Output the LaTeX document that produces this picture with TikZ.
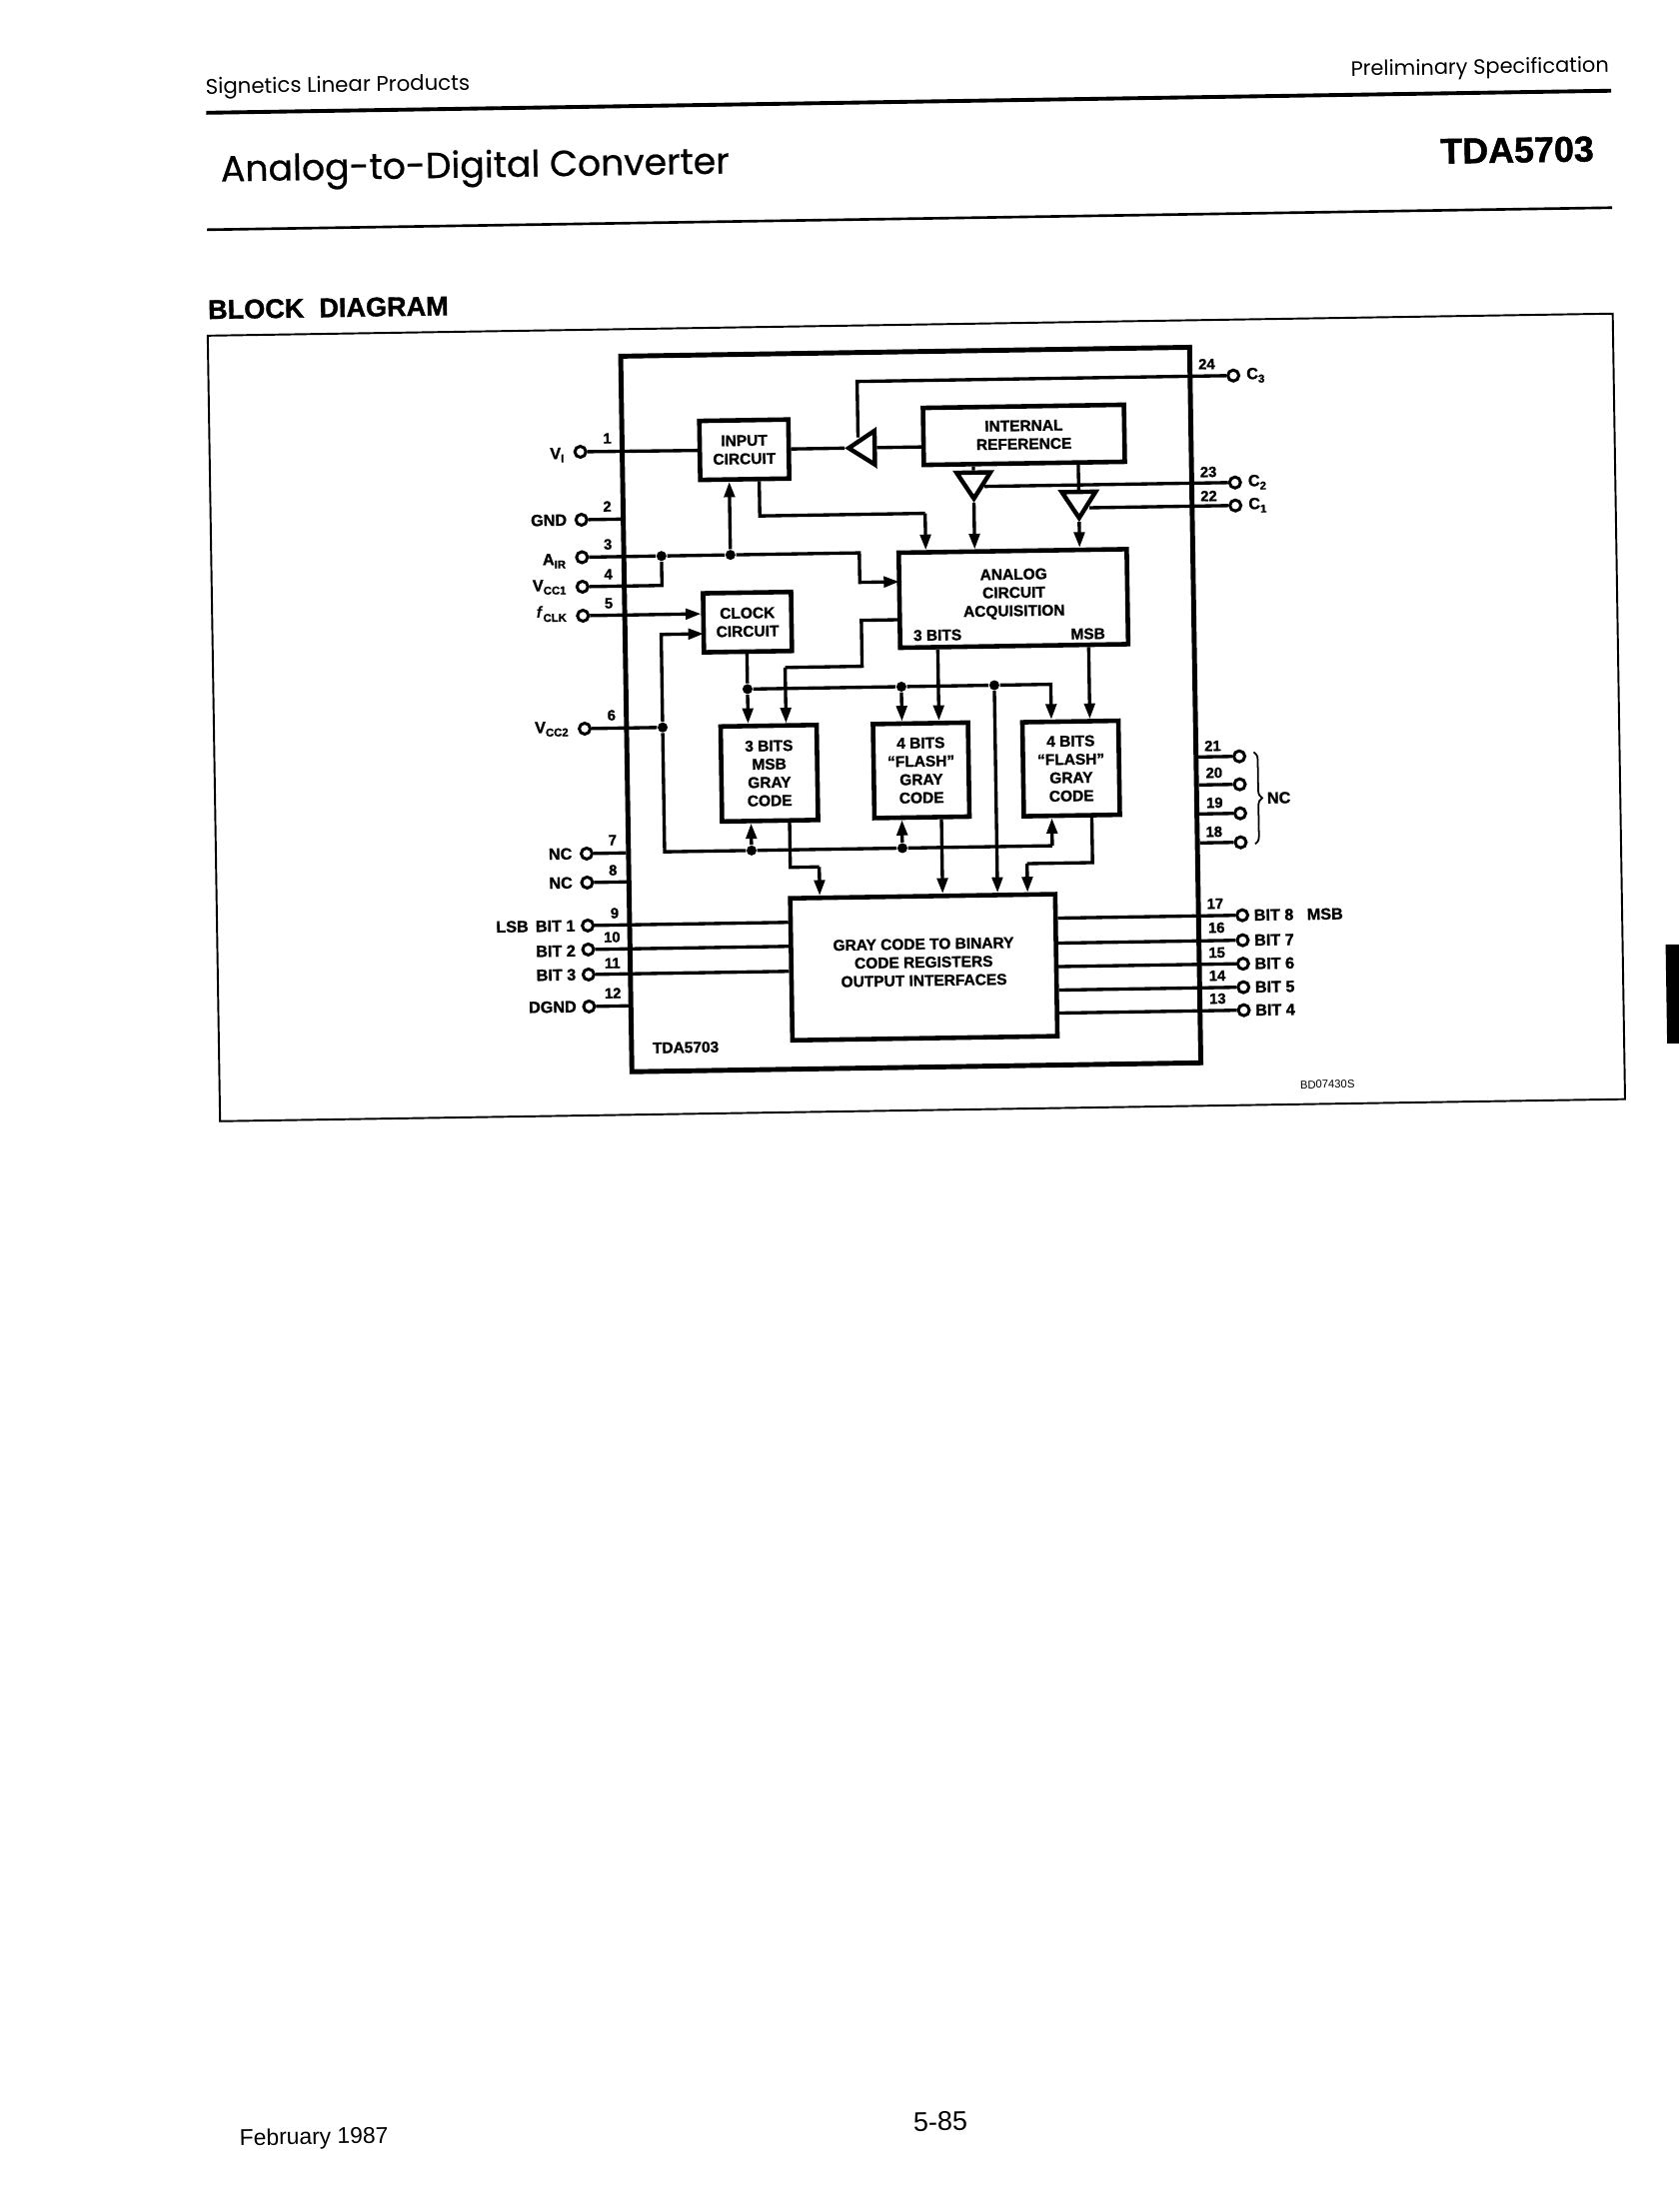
\documentclass[tikz,border=0pt]{standalone}
\usepackage{fontspec}
\setmainfont[BoldFeatures={FakeBold=1.2}]{Liberation Sans}
\newfontfamily\headfont{Poppins}
\newfontfamily\titlefont[FakeBold=0.6]{Poppins}
\usetikzlibrary{arrows.meta,shapes.geometric,decorations.pathreplacing}
\tikzset{
  wire/.style={line width=0.95pt},
  arr/.style={wire, -{Triangle[length=4.4pt,width=3pt]}},
  block/.style={draw, line width=1.3pt, align=center, inner sep=0pt, node font=\fontsize{4.4}{5.2}\selectfont\bfseries},
  blocktext/.style={align=center, inner sep=0pt, node font=\fontsize{4.4}{5.2}\selectfont\bfseries},
  pincirc/.style={draw, circle, fill=white, line width=0.85pt, minimum size=0.11cm, inner sep=0pt},
  pinnum/.style={inner sep=0pt, node font=\fontsize{4.2}{5}\selectfont\bfseries},
  pinleft/.style={anchor=east, inner sep=0pt, node font=\fontsize{4.6}{5}\selectfont\bfseries},
  pinright/.style={anchor=west, inner sep=0pt, node font=\fontsize{4.6}{5}\selectfont\bfseries},
  jdot/.style={circle, fill, minimum size=0.1cm, inner sep=0pt},
  buffer/.style={draw, isosceles triangle, isosceles triangle apex angle=66, line width=1.25pt, minimum height=0.26cm, inner sep=0pt, anchor=apex},
  rulehead/.style={line width=1.1pt},
}
\begin{document}
\begin{tikzpicture}[x=0.01cm, y=-0.01cm]
\useasboundingbox (0, 0) rectangle (1680, 2213);
\begin{scope}[rotate around={0.9:(840, 1106)}, transform shape]
% page head and foot
\node [inner sep=0pt, node font=\fontsize{6.05}{7}\selectfont\headfont] (signetics) at (354, 79) {Signetics Linear Products};
\node [inner sep=0pt, node font=\fontsize{5.95}{7}\selectfont\headfont] (prelim) at (1497, 79) {Preliminary Specification};
\draw [rulehead] (222, 103) -- (1628, 103);
\node [inner sep=0pt, anchor=west, node font=\fontsize{10.3}{12}\selectfont\titlefont] (title) at (235, 163) {Analog-to-Digital Converter};
\node [inner sep=0pt, node font=\fontsize{10.2}{12}\selectfont\bfseries] (partno) at (1533, 161) {TDA5703};
\draw [line width=0.75pt] (221, 220) -- (1627, 220);
\node [inner sep=0pt, node font=\fontsize{7.7}{9}\selectfont\bfseries] (heading) at (341, 300) {BLOCK\ \ DIAGRAM};
\draw [line width=0.55pt] (220, 326) rectangle (1626, 1112);
\node [inner sep=0pt, node font=\fontsize{6.5}{8}\selectfont] (date) at (298, 2131) {February 1987};
\node [inner sep=0pt, node font=\fontsize{7.7}{9}\selectfont] (pageno) at (925, 2124) {5-85};
\fill (1669, 958) rectangle (1695, 1057);
% chip and blocks
\node [draw, line width=1.4pt, minimum width=5.69cm, minimum height=7.155cm, inner sep=0pt] (chip) at (917.5, 711) {};
\node [block, minimum width=0.89cm, minimum height=0.59cm] (inbox) at (755, 448.5) {INPUT\\ CIRCUIT};
\node [block, minimum width=0.88cm, minimum height=0.59cm] (clkbox) at (755.5, 621) {CLOCK\\ CIRCUIT};
\node [block, minimum width=2.01cm, minimum height=0.57cm] (refbox) at (1035, 438) {INTERNAL\\ REFERENCE};
\node [block, minimum width=2.28cm, minimum height=0.95cm] (anabox) at (1022, 601.5) {};
\node [blocktext] (anatext) at (1022.5, 597) {ANALOG\\ CIRCUIT\\ ACQUISITION};
\node [blocktext] (threebits) at (945.5, 637) {3 BITS};
\node [blocktext] (msbtext) at (1096, 638) {MSB};
\node [block, minimum width=0.96cm, minimum height=0.95cm] (grayone) at (775, 772.5) {3 BITS\\ MSB\\ GRAY\\ CODE};
\node [block, minimum width=0.95cm, minimum height=0.94cm] (graytwo) at (927, 772) {4 BITS\\ ``FLASH''\\ GRAY\\ CODE};
\node [block, minimum width=0.96cm, minimum height=0.94cm] (graythree) at (1077, 772.5) {4 BITS\\ ``FLASH''\\ GRAY\\ CODE};
\node [block, minimum width=2.65cm, minimum height=1.42cm] (convbox) at (926.5, 969) {};
\node [blocktext] (convtext) at (926.5, 964) {GRAY CODE TO BINARY\\ CODE REGISTERS\\ OUTPUT INTERFACES};
\node [blocktext] (chipname) at (687, 1045.5) {TDA5703};
\node [inner sep=0pt, node font=\fontsize{3.2}{4}\selectfont] (drawingno) at (1328.5, 1092.5) {BD07430S};
% buffers
\node [buffer, shape border rotate=180] (bufthree) at (855.5, 448.5) {};
\node [buffer, shape border rotate=270] (buftwo) at (984, 505) {};
\node [buffer, shape border rotate=270] (bufone) at (1089, 526) {};
% left pins
\node [pincirc] (vi) at (591, 448) {};
\node [pincirc] (gnd) at (591, 516) {};
\node [pincirc] (air) at (591, 553.5) {};
\node [pincirc] (vccone) at (591, 583) {};
\node [pincirc] (fclk) at (591, 612) {};
\node [pincirc] (vcctwo) at (591, 725) {};
\node [pincirc] (ncseven) at (591, 850) {};
\node [pincirc] (nceight) at (591, 879) {};
\node [pincirc] (bitone) at (591, 922) {};
\node [pincirc] (bittwo) at (591, 946) {};
\node [pincirc] (bitthree) at (591, 971) {};
\node [pincirc] (dgnd) at (591, 1003) {};
\node [pinleft] (lvi) at (577, 451) {V\textsubscript{I}};
\node [pinleft] (lgnd) at (577, 516) {GND};
\node [pinleft] (lair) at (577, 557) {A\textsubscript{IR}};
\node [pinleft] (lvccone) at (577, 583) {V\textsubscript{CC1}};
\node [pinleft] (lfclk) at (577, 610) {\textit{f}\textsubscript{CLK}};
\node [pinleft] (lvcctwo) at (577, 725) {V\textsubscript{CC2}};
\node [pinleft] (lncseven) at (577, 850) {NC};
\node [pinleft] (lnceight) at (577, 879) {NC};
\node [pinleft] (lbitone) at (579, 922) {LSB\ \,BIT 1};
\node [pinleft] (lbittwo) at (579, 947) {BIT 2};
\node [pinleft] (lbitthree) at (579, 971) {BIT 3};
\node [pinleft] (ldgnd) at (579, 1003) {DGND};
\node [pinnum] (none) at (618, 435) {1};
\node [pinnum] (ntwo) at (617, 503) {2};
\node [pinnum] (nthree) at (617, 541) {3};
\node [pinnum] (nfour) at (617, 571) {4};
\node [pinnum] (nfive) at (617, 600) {5};
\node [pinnum] (nsix) at (618, 712) {6};
\node [pinnum] (nseven) at (617, 837) {7};
\node [pinnum] (neight) at (617, 867) {8};
\node [pinnum] (nnine) at (618, 910) {9};
\node [pinnum] (nten) at (615, 934) {10};
\node [pinnum] (neleven) at (615, 960) {11};
\node [pinnum] (ntwelve) at (615, 990) {12};
% right pins
\node [pincirc] (cthree) at (1245.5, 382) {};
\node [pincirc] (ctwo) at (1245.5, 489) {};
\node [pincirc] (cone) at (1245.5, 512) {};
\node [pincirc] (ncone) at (1245.5, 763) {};
\node [pincirc] (nctwo) at (1245.5, 791) {};
\node [pincirc] (ncthree) at (1245.5, 820) {};
\node [pincirc] (ncfour) at (1245.5, 849) {};
\node [pincirc] (biteight) at (1246, 922) {};
\node [pincirc] (bitseven) at (1246, 947) {};
\node [pincirc] (bitsix) at (1246, 970.5) {};
\node [pincirc] (bitfive) at (1246, 994) {};
\node [pincirc] (bitfour) at (1246, 1017) {};
\node [pinright] (lcthree) at (1258, 382) {C\textsubscript{3}};
\node [pinright] (lctwo) at (1258, 489) {C\textsubscript{2}};
\node [pinright] (lcone) at (1258, 512) {C\textsubscript{1}};
\node [pinright] (lnc) at (1272, 805) {NC};
\node [pinright] (lbiteight) at (1257, 922) {BIT 8\ \ \ MSB};
\node [pinright] (lbitseven) at (1257, 947) {BIT 7};
\node [pinright] (lbitsix) at (1257, 970.5) {BIT 6};
\node [pinright] (lbitfive) at (1257, 994) {BIT 5};
\node [pinright] (lbitfour) at (1257, 1017) {BIT 4};
\node [pinnum] (ntwentyfour) at (1219, 370) {24};
\node [pinnum] (ntwentythree) at (1219, 478) {23};
\node [pinnum] (ntwentytwo) at (1219, 502) {22};
\node [pinnum] (ntwentyone) at (1219, 752) {21};
\node [pinnum] (ntwenty) at (1220, 779) {20};
\node [pinnum] (nnineteen) at (1220, 809) {19};
\node [pinnum] (neighteen) at (1219, 838) {18};
\node [pinnum] (nseventeen) at (1219, 910) {17};
\node [pinnum] (nsixteen) at (1220, 934) {16};
\node [pinnum] (nfifteen) at (1220, 959) {15};
\node [pinnum] (nfourteen) at (1220, 982) {14};
\node [pinnum] (nthirteen) at (1220, 1005) {13};
\draw [decorate, decoration={brace, amplitude=2.2pt}, line width=0.5pt] (1260, 759) coordinate (bracetop) -- (1260, 851) coordinate (bracebot);
% junctions and bends
\node [jdot] (dotair) at (670.5, 553.5) {};
\node [jdot] (dotin) at (739.5, 553.5) {};
\node [jdot] (dotvcc) at (669, 725) {};
\node [jdot] (dotclk) at (754.5, 688) {};
\node [jdot] (dotflash) at (908.5, 688) {};
\node [jdot] (dotconv) at (1001.5, 688) {};
\node [jdot] (dotgone) at (756, 849.5) {};
\node [jdot] (dotgtwo) at (907, 849.5) {};
\coordinate (incorner) at (769.5, 515);
\coordinate (inend) at (935, 515);
\coordinate (aircorner) at (868.5, 553.5);
\coordinate (airend) at (908, 583);
\coordinate (clkin) at (711.5, 632);
\coordinate (anacorner) at (869.5, 621);
\coordinate (anabend) at (869.5, 667);
\coordinate (anadrop) at (792.5, 667);
\coordinate (clkright) at (1058, 688);
\coordinate (busright) at (1057, 849.5);
\coordinate (goneout) at (794.5, 867);
\coordinate (goneend) at (823.5, 867);
\coordinate (gthreeout) at (1097, 867);
\coordinate (gthreeend) at (1031.5, 867);
\coordinate (cthreebend) at (869, 382);
% connectors on the left
\draw [wire] (vi) -- (inbox.west);
\draw [wire] (gnd) -- (gnd -| chip.west);
\draw [wire] (air) -- (dotair);
\draw [wire] (dotair) -- (dotin);
\draw [arr] (dotin) -- (aircorner) |- (airend);
\draw [arr] (dotin) -- (dotin |- inbox.south);
\draw [wire] (vccone) -| (dotair);
\draw [arr] (fclk) -- (fclk -| clkbox.west);
\draw [wire] (vcctwo) -- (dotvcc);
\draw [arr] (dotvcc) |- (clkin);
\draw [wire] (ncseven) -- (ncseven -| chip.west);
\draw [wire] (nceight) -- (nceight -| chip.west);
\draw [wire] (bitone) -- (bitone -| convbox.west);
\draw [wire] (bittwo) -- (bittwo -| convbox.west);
\draw [wire] (bitthree) -- (bitthree -| convbox.west);
\draw [wire] (dgnd) -- (dgnd -| chip.west);
% connectors round the reference
\draw [wire] (inbox.east) -- (bufthree.apex);
\draw [wire] (bufthree.lower side) -- (bufthree.lower side -| refbox.west);
\draw [wire] (cthree) -- (cthreebend) -- (cthreebend |- bufthree.right side);
\draw [wire] (buftwo.lower side) -- (buftwo.lower side |- refbox.south);
\draw [wire] (bufone.lower side) -- (bufone.lower side |- refbox.south);
\draw [arr] (buftwo.apex) -- (buftwo.apex |- anabox.north);
\draw [arr] (bufone.apex) -- (bufone.apex |- anabox.north);
\draw [wire] (ctwo) -- (ctwo -| buftwo.left side);
\draw [wire] (cone) -- (cone -| bufone.left side);
\draw [wire] (incorner |- inbox.south) -- (incorner) -- (inend);
\draw [arr] (inend) -- (inend |- anabox.north);
% connectors to the gray code blocks
\draw [wire] (dotclk |- clkbox.south) -- (dotclk);
\draw [wire] (dotclk) -- (dotflash);
\draw [wire] (dotflash) -- (dotconv);
\draw [arr] (dotconv) -| (clkright |- graythree.north);
\draw [arr] (dotclk) -- (dotclk |- grayone.north);
\draw [arr] (dotflash) -- (dotflash |- graytwo.north);
\draw [arr] (dotconv) -- (dotconv |- convbox.north);
\draw [wire] (anacorner -| anabox.west) -- (anacorner) -- (anabend) -- (anadrop);
\draw [arr] (anadrop) -- (anadrop |- grayone.north);
\draw [arr] (945.5, 0 |- anabox.south) -- (945.5, 0 |- graytwo.north);
\draw [arr] (1096.5, 0 |- anabox.south) -- (1096.5, 0 |- graythree.north);
\draw [wire] (dotvcc) |- (dotgone);
\draw [wire] (dotgone) -- (dotgtwo);
\draw [wire] (dotgtwo) -- (busright);
\draw [arr] (busright) -- (busright |- graythree.south);
\draw [arr] (dotgone) -- (dotgone |- grayone.south);
\draw [arr] (dotgtwo) -- (dotgtwo |- graytwo.south);
% connectors to the output block
\draw [wire] (goneout |- grayone.south) -- (goneout) -- (goneend);
\draw [arr] (goneend) -- (goneend |- convbox.north);
\draw [arr] (946.5, 0 |- graytwo.south) -- (946.5, 0 |- convbox.north);
\draw [wire] (gthreeout |- graythree.south) -- (gthreeout) -- (gthreeend);
\draw [arr] (gthreeend) -- (gthreeend |- convbox.north);
\draw [wire] (biteight) -- (biteight -| convbox.east);
\draw [wire] (bitseven) -- (bitseven -| convbox.east);
\draw [wire] (bitsix) -- (bitsix -| convbox.east);
\draw [wire] (bitfive) -- (bitfive -| convbox.east);
\draw [wire] (bitfour) -- (bitfour -| convbox.east);
% unconnected pins on the right
\draw [wire] (ncone) -- (ncone -| chip.east);
\draw [wire] (nctwo) -- (nctwo -| chip.east);
\draw [wire] (ncthree) -- (ncthree -| chip.east);
\draw [wire] (ncfour) -- (ncfour -| chip.east);
\end{scope}
\end{tikzpicture}
\end{document}
